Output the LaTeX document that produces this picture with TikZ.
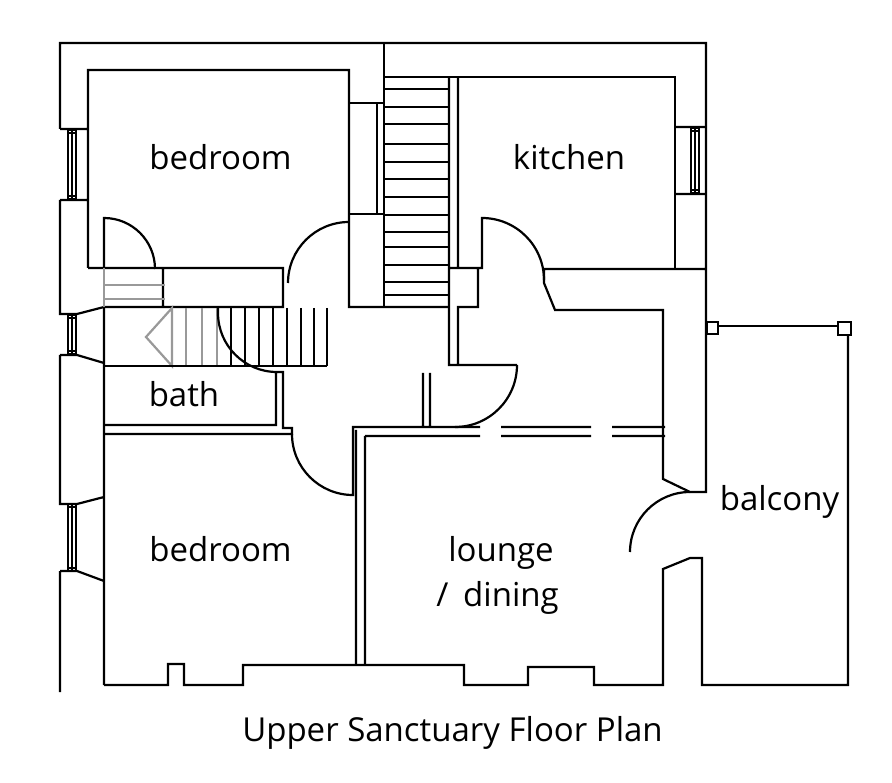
\documentclass[tikz,border=0pt]{standalone}
\usepackage{fontspec}
\setmainfont{Open Sans}
\usepackage{xcolor}
\definecolor{wall}{rgb}{0,0,0}
\definecolor{faded}{rgb}{.6,.6,.6}
\tikzset{
    font={\fontsize{33pt}{36}\selectfont},
    room/.style={anchor=base,text=black,inner sep=0pt},
    wallline/.style={wall,line width=2.2pt,line join=miter},
    thinline/.style={wall,line width=1.3pt},
    fadedline/.style={faded,line width=2.2pt},
    }
\begin{document}
\begin{tikzpicture}
    [x=1pt, y=-1pt]
    \useasboundingbox (0,0) rectangle (892,783);
    % outer wall and first bedroom
    \draw[wallline]
        (60,129)--(60,43)--(706,43)--(706,492)--(690,492)--(663,479)--(663,310)
        --(555,310)--(544,283)--(544,269)--(706,269);
    \draw[wallline]
        (60,129)--(88,129)
        (88,268)--(88,70)--(349,70)--(349,307)--(449,307)
        (60,200)--(88,200)
        (60,200)--(60,314)--(77,314)--(104,307)
        (88,268)--(283,268)--(283,307)--(104,307)
        (163,268)--(163,307);
    % first bedroom doors
    \draw[wallline]
        (104,268)--(104,218) arc[start angle=90,delta angle=-90,radius=51pt];
    \draw[wallline]
        (349,222) arc[start angle=90,delta angle=90,radius=61pt];
    % stairs to the right of the bedroom
    \draw[wallline]
        (384,43)--(384,307)
        (349,103)--(384,103)
        (349,214)--(384,214)
        (377,103)--(377,214)
        (384,77)--(675,77)--(675,269);
    \foreach \i in {89,107,124,144,162,179,197,215,232,247,265,282,295}
        \draw[wallline] (384,\i)--(449,\i);
    % kitchen
    \draw[wallline]
        (449,77)--(449,365)--(517,365)
        (458,77)--(458,268)
        (449,268)--(482,268)--(482,218)
        arc[start angle=90,delta angle=-90,radius=62pt]
        (478,268)--(478,307)--(458,307)--(458,365)
        (675,127)--(706,127)
        (675,194)--(706,194);
    \draw[wallline]
        (517,365) arc[start angle=0,delta angle=-90,radius=62pt];
    % left side of the house
    \draw[wallline]
        (60,355)--(77,355)--(104,363)
        (60,355)--(60,504)--(77,504)--(104,497)
        (60,571)--(77,571)--(104,581)
        (60,571)--(60,692)
        (104,307)--(104,685);
    % grey flight
    \draw[fadedline]
        (104,268)--(104,307)
        (104,285)--(165,285)
        (104,299)--(165,299);
    \foreach \i in {186,202,217}
        \draw[fadedline] (\i,308)--(\i,366);
    \draw[fadedline] (172,308)--(146,337)--(172,366)--cycle;
    % black flight
    \foreach \i in {231,245,259,273,287,301,314,327}
        \draw[wallline] (\i,308)--(\i,366);
    \draw[wallline] (104,366)--(327,366);
    % bath
    \draw[wallline]
        (218,308)--(218,313) arc[start angle=180,delta angle=90,radius=59pt]
        --(283,372)--(283,428)--(292,428)--(292,434)--(104,434)
        (276,372)--(276,425)--(104,425);
    \draw[wallline]
        (292,434) arc[start angle=180,delta angle=90,radius=61pt]
        --(353,427)--(480,427)
        (356,430)--(356,664)
        (365,436)--(480,436)
        (365,436)--(365,665)
        (501,427)--(591,427)
        (501,436)--(591,436)
        (612,427)--(665,427)
        (612,436)--(665,436)
        (423,373)--(423,427)
        (430,373)--(430,427);
    % lower outline
    \draw[wallline]
        (104,685)--(168,685)--(168,664)--(184,664)--(184,685)--(243,685)
        --(243,665)--(464,665)--(464,685)--(528,685)--(528,667)--(594,667)
        --(594,685)--(663,685)--(663,569)--(690,558)--(702,558)--(702,685)
        --(848,685)--(848,335);
    \draw[wallline]
        (690,492) arc[start angle=90,delta angle=90,radius=60pt];
    % balcony rail
    \draw[wallline]
        (707,322) rectangle (718,334)
        (838,322) rectangle (851,335);
    \draw[wallline] (718,326)--(838,326);
    % windows
    \foreach \w/\i/\j in {68/130/199,68/315/354,68/504/571,691/128/193} {
        \draw[wallline] (\w,\i) rectangle (\w+8,\j);
        \draw[thinline]
            (\w+4,\i)--(\w+4,\j)
            (\w,\i+3)--(\w+8,\i+3)
            (\w,\j-3)--(\w+8,\j-3);
    }
    % text
    \node[room] (bedroomone) at (220.5,169.5) {bedroom};
    \node[room] (kitchen) at (569,169.5) {kitchen};
    \node[room] (bath) at (184,406.5) {bath};
    \node[room] (bedroomtwo) at (220.5,561) {bedroom};
    \node[room] (lounge) at (501,561) {lounge};
    \node[room] (dining) at (497.5,606) {/\hspace{.45em}dining};
    \node[room] (balcony) at (779.5,511) {balcony};
    \node[room] (title) at (452.5,741) {Upper Sanctuary Floor Plan};
\end{tikzpicture}
\end{document}
